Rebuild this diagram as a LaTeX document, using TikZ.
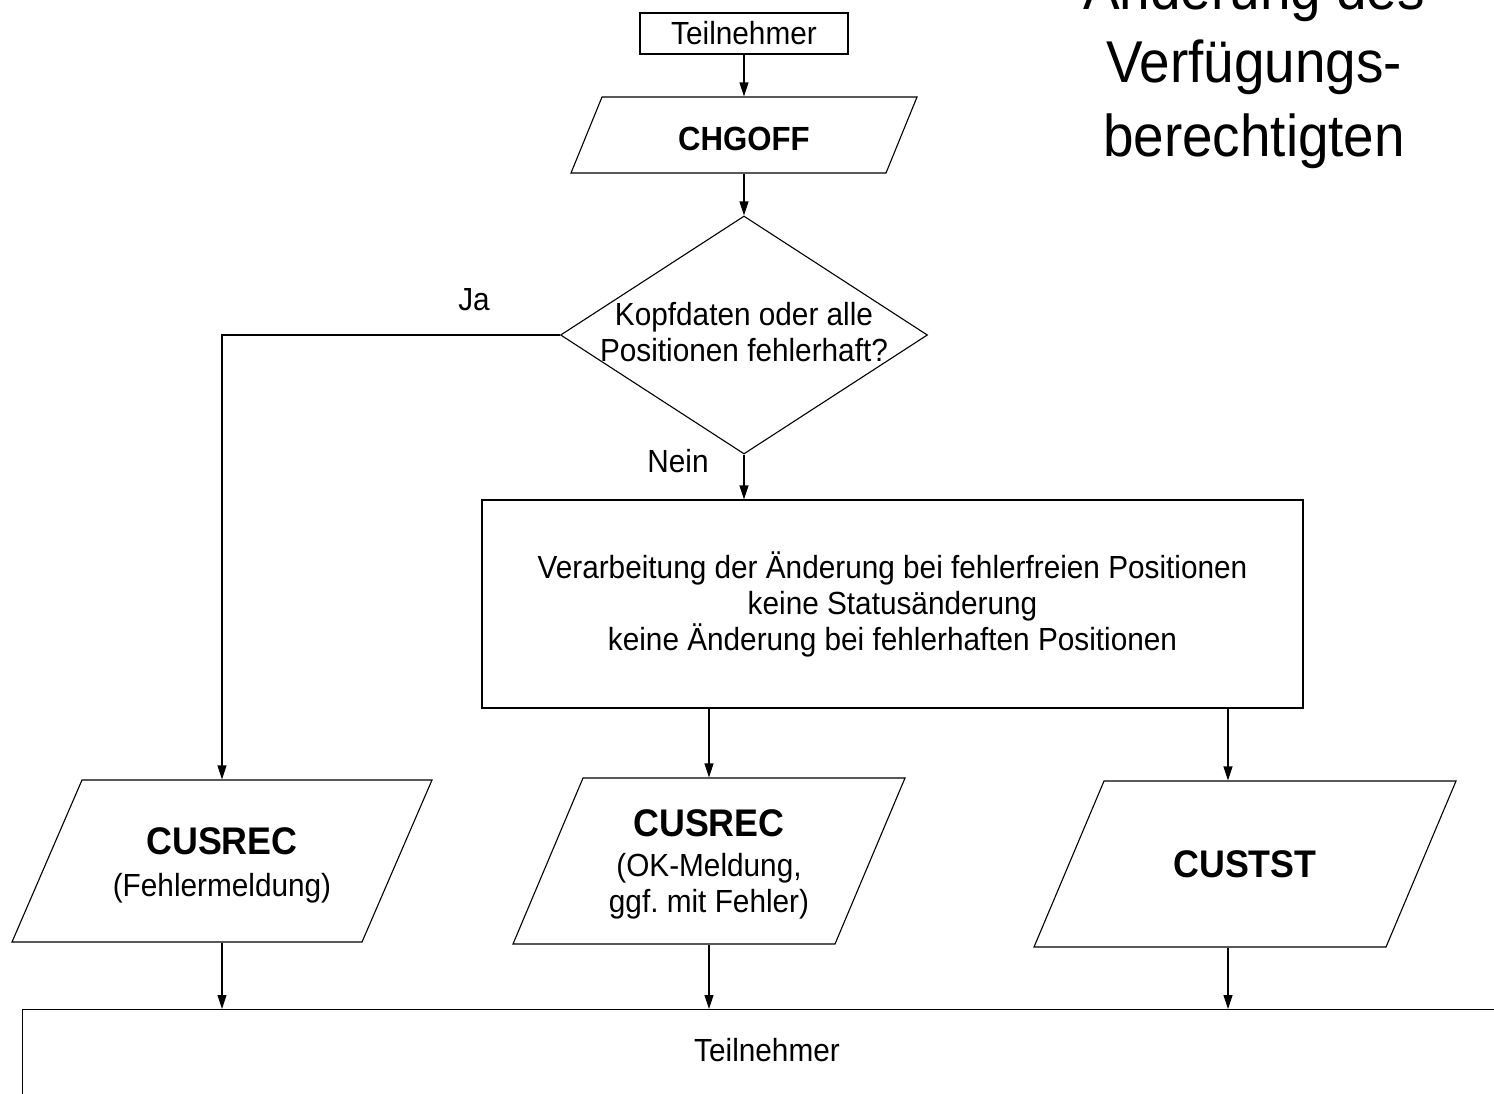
\documentclass[tikz,border=0pt]{standalone}
\usepackage{fontspec}
\setmainfont{Liberation Sans}[FakeStretch=0.93]
\usetikzlibrary{arrows.meta,positioning,shapes.geometric}
\newcommand*{\normfont}{\fontsize{32}{36}\selectfont}
\newcommand*{\bigbold}{\fontsize{38.5}{40}\selectfont\bfseries}
\newcommand*{\titlefont}{\fontsize{59}{73.5}\selectfont}
\newcommand*{\IOBox}[8]{\draw (#1-#3/2+#5/2,#2-#4/2) -- ++(#3,0) -- ++(-#5,#4) -- ++(-#3,0) -- cycle;
  \node[iobox,minimum width=#3,minimum height=#4] (#6) at (#1,#2) {};
  \node[iotext] (#6t) at (#1,#2+#8) {#7};
}

\begin{document}
\begin{tikzpicture}[x=1pt,y=-1pt,line width=1.1pt,font=\normfont]
\tikzstyle{iobox}=[shape=rectangle,inner sep=0pt]
\tikzstyle{iotext}=[align=center,inner sep=0pt]
\tikzset{>={Triangle[length=14pt,width=9pt]}}
\clip (0,0) rectangle (1494,1093);
\node[draw,minimum width=208,minimum height=41,inner sep=0pt] (tn1) at (744,33.5) {Teilnehmer};
\IOBox{744}{135}{315}{76}{31}{chg}{{\fontsize{33.5}{36}\selectfont\bfseries CHGOFF}}{4}
\node[diamond,draw,minimum width=367,minimum height=238,inner sep=0pt] (dq) at (744,335) {};
\node[align=center] (dqt) at (744,332) {Kopfdaten oder alle\\Positionen fehlerhaft?};
\node (ja) at (474,300) {Ja};
\node (nein) at (678,461) {Nein};
\node[draw,minimum width=821,minimum height=208,align=center] (proc) at (892.5,604)
     {Verarbeitung der Änderung bei fehlerfreien Positionen\\keine Statusänderung\\keine Änderung bei fehlerhaften Positionen};
\IOBox{222}{861}{350}{162}{70}{cr1}{{\bigbold CUSREC}\\[6pt](Fehlermeldung)}{4}
\IOBox{709}{861}{322}{166}{70}{cr2}{{\bigbold CUSREC}\\[4pt](OK-Meldung,\\ggf.\ mit Fehler)}{3}
\IOBox{1245}{864}{352}{166}{70}{cs}{{\bigbold CUSTST}}{0}
\node[draw,minimum width=1600,minimum height=200,anchor=north west] (tn2) at (22,1009) {};
\node (tn2t) at (767,1050) {Teilnehmer};
\node[align=center,font=\titlefont] (title) at (1254,64) {Änderung des\\Verfügungs-\\berechtigten};
\coordinate (csx) at (1228,0);
\draw[->] (tn1.south) -- (tn1.south |- chg.north);
\draw[->] (chg.south) -- (dq.north);
\draw[->] (dq.west) -| (cr1.north);
\draw[->] (dq.south) -- (dq.south |- proc.north);
\draw[->] (proc.south -| cr2.north) -- (cr2.north);
\draw[->] (proc.south -| csx) -- (cs.north -| csx);
\draw[->] (cr1.south) -- (cr1.south |- tn2.north);
\draw[->] (cr2.south) -- (cr2.south |- tn2.north);
\draw[->] (cs.south -| csx) -- (tn2.north -| csx);
\end{tikzpicture}
\end{document}
